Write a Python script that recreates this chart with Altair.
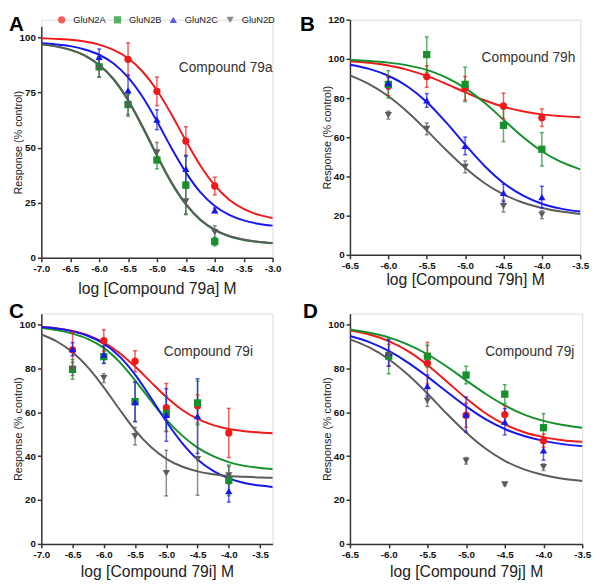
import altair as alt
import pandas as pd

FONT = "Liberation Sans"
SERIES = ["GluN2A", "GluN2B", "GluN2C", "GluN2D"]
COLORS = ["#f01818", "#15902a", "#1616f0", "#5c5c5c"]
SHAPES = ["circle", "square", "triangle-up", "triangle-down"]
YTITLE = "Response (% control)"

# ---------------- Panel A : Compound 79a ----------------
A_conc = [-6.0, -5.5, -5.0, -4.5, -4.0]
A_mean = {
    "GluN2A": [None, 90.1, 75.6, 53.0, 32.6],
    "GluN2B": [86.7, 69.6, 44.4, 33.0, 7.4],
    "GluN2C": [91.3, 76.0, 62.7, 40.4, 21.6],
    "GluN2D": [86.0, 69.3, 47.9, 25.6, 11.6],
}
A_err = {
    "GluN2A": [None, 7.5, 6.5, 6.5, 4.0],
    "GluN2B": [4.5, 4.5, 4.0, 13.0, 2.0],
    "GluN2C": [3.5, 7.0, 4.5, 6.0, 1.0],
    "GluN2D": [4.0, 5.0, 4.5, 6.0, 3.0],
}
A_cx = [-7.0, -6.75, -6.5, -6.25, -6.0, -5.75, -5.5, -5.25, -5.0, -4.75, -4.5,
        -4.25, -4.0, -3.75, -3.5, -3.25, -3.0]
A_curve = {
    "GluN2A": [99.7, 99.4, 99.0, 98.2, 96.8, 94.4, 90.6, 84.6, 76.1, 65.2, 53.2, 41.9, 32.9, 26.4, 22.2, 19.6, 18.1],
    "GluN2B": [96.9, 96.0, 94.4, 91.8, 87.5, 80.9, 71.4, 59.3, 46.2, 34.0, 24.2, 17.2, 12.6, 9.7, 8.1, 7.2, 6.6],
    "GluN2C": [97.4, 96.9, 96.1, 94.6, 92.2, 88.2, 81.9, 73.1, 62.0, 49.9, 38.8, 29.8, 23.5, 19.5, 17.0, 15.5, 14.6],
    "GluN2D": [96.9, 96.0, 94.5, 91.9, 87.7, 81.2, 71.8, 59.8, 46.7, 34.4, 24.5, 17.4, 12.8, 9.9, 8.3, 7.3, 6.7],
}

# ---------------- Panel B : Compound 79h ----------------
B_conc = [-6.0, -5.5, -5.0, -4.5, -4.0]
B_mean = {
    "GluN2A": [86.3, 91.0, 85.0, 76.0, 70.0],
    "GluN2B": [87.0, 102.2, 87.0, 66.1, 53.9],
    "GluN2C": [87.6, 78.8, 55.6, 31.6, 29.5],
    "GluN2D": [71.3, 64.3, 44.9, 24.9, 20.5],
}
B_err = {
    "GluN2A": [5.0, 5.5, 6.0, 6.5, 4.5],
    "GluN2B": [7.0, 9.0, 8.8, 8.3, 8.5],
    "GluN2C": [3.0, 3.5, 4.5, 4.5, 5.5],
    "GluN2D": [2.0, 3.0, 3.0, 3.0, 2.0],
}
B_cx = [-6.5, -6.25, -6.0, -5.75, -5.5, -5.25, -5.0, -4.75, -4.5, -4.25, -4.0, -3.75, -3.5]
B_curve = {
    "GluN2A": [98.8, 98.0, 96.6, 94.4, 91.3, 87.3, 83.0, 78.9, 75.6, 73.3, 71.7, 70.8, 70.2],
    "GluN2B": [99.4, 98.9, 98.1, 96.7, 94.4, 90.6, 85.1, 77.7, 69.0, 60.3, 52.9, 47.4, 43.6],
    "GluN2C": [97.0, 94.9, 91.4, 85.9, 78.0, 67.7, 56.3, 45.5, 36.7, 30.3, 26.1, 23.6, 22.1],
    "GluN2D": [91.6, 87.1, 80.9, 72.9, 63.5, 53.6, 44.4, 36.7, 30.9, 26.7, 23.9, 22.1, 20.9],
}

# ---------------- Panel C : Compound 79i ----------------
C_conc = [-6.5, -6.0, -5.5, -5.0, -4.5, -4.0]
C_mean = {
    "GluN2A": [88.5, 92.7, 83.3, 62.2, 63.0, 50.6],
    "GluN2B": [79.6, 85.4, 64.9, 59.5, 64.3, 29.0],
    "GluN2C": [88.8, 86.3, 64.7, 58.8, 58.3, 24.1],
    "GluN2D": [79.8, 75.6, 49.1, 32.3, 38.7, 31.3],
}
C_err = {
    "GluN2A": [8.0, 5.0, 4.8, 11.0, 5.0, 11.2],
    "GluN2B": [4.5, 3.0, 9.0, 8.0, 10.0, 7.0],
    "GluN2C": [3.0, 4.0, 9.0, 12.0, 17.0, 5.0],
    "GluN2D": [3.0, 2.0, 4.0, 10.4, 16.5, 4.0],
}
C_cx = [-7.0, -6.75, -6.5, -6.25, -6.0, -5.75, -5.5, -5.25, -5.0, -4.75, -4.5,
        -4.25, -4.0, -3.75, -3.5, -3.3]
C_curve = {
    "GluN2A": [99.0, 98.3, 97.1, 95.1, 91.8, 87.1, 80.9, 73.9, 67.0, 61.2, 57.0, 54.2, 52.4, 51.4, 50.8, 50.5],
    "GluN2B": [98.6, 97.5, 95.9, 93.4, 89.4, 83.0, 74.6, 65.4, 56.7, 49.5, 43.9, 40.0, 37.3, 35.6, 34.6, 34.1],
    "GluN2C": [98.9, 98.2, 96.9, 94.8, 91.3, 85.5, 77.2, 66.8, 55.8, 46.1, 38.5, 33.3, 29.9, 27.8, 26.6, 26.0],
    "GluN2D": [95.5, 92.3, 87.4, 80.4, 71.4, 61.4, 51.9, 44.3, 38.8, 35.3, 33.1, 31.8, 31.0, 30.6, 30.3, 30.2],
}

# ---------------- Panel D : Compound 79j ----------------
D_conc = [-6.0, -5.5, -5.0, -4.5, -4.0]
D_mean = {
    "GluN2A": [86.0, 82.4, 58.7, 59.0, 47.1],
    "GluN2B": [85.6, 85.6, 77.0, 68.3, 53.0],
    "GluN2C": [87.1, 72.0, 59.0, 55.7, 42.7],
    "GluN2D": [86.0, 65.2, 37.9, 27.1, 35.0],
}
D_err = {
    "GluN2A": [5.0, 9.5, 5.5, 4.0, 3.0],
    "GluN2B": [8.0, 5.0, 4.0, 4.3, 6.4],
    "GluN2C": [6.0, 5.0, 8.0, 6.0, 4.5],
    "GluN2D": [2.0, 2.5, 1.5, 0.5, 1.5],
}
D_cx = [-6.5, -6.25, -6.0, -5.75, -5.5, -5.25, -5.0, -4.75, -4.5, -4.25, -4.0, -3.75, -3.5]
D_curve = {
    "GluN2A": [97.4, 95.5, 92.5, 87.9, 81.6, 74.1, 66.4, 59.6, 54.5, 50.9, 48.7, 47.3, 46.6],
    "GluN2B": [97.8, 96.3, 94.2, 90.9, 86.5, 80.9, 74.6, 68.5, 63.2, 59.0, 56.1, 54.2, 53.0],
    "GluN2C": [94.8, 92.0, 88.0, 82.7, 76.3, 69.4, 62.7, 56.9, 52.4, 49.2, 47.0, 45.5, 44.6],
    "GluN2D": [93.3, 89.6, 84.2, 77.1, 68.6, 59.4, 50.8, 43.5, 37.9, 34.0, 31.4, 29.7, 28.7],
}

XLABEL = "(datum.value < 0 ? '-' : '') + format(abs(datum.value), '.1f')"


def panel(letter, comp, conc, means, errs, cx, curves, xdom, xticks, ydom, yticks,
          width, height, yrange, ann_x, ann_y, letter_x, letter_y, xtitle_y, show_legend):
    pts = pd.DataFrame([
        {"x": x, "series": s, "mean": m, "lo": m - e, "hi": m + e}
        for s in SERIES for x, m, e in zip(conc, means[s], errs[s]) if m is not None
    ])
    crv = pd.DataFrame([
        {"x": x, "series": s, "y": v} for s in SERIES for x, v in zip(cx, curves[s])
    ])
    cs = alt.Scale(domain=SERIES, range=COLORS)
    ss = alt.Scale(domain=SERIES, range=SHAPES)
    xs = alt.Scale(domain=xdom, nice=False, zero=False)
    if yrange is not None:
        ys = alt.Scale(domain=ydom, nice=False, zero=False, range=yrange)
    else:
        ys = alt.Scale(domain=ydom, nice=False, zero=False)

    xaxis = alt.Axis(values=xticks, tickCount=40, labelExpr=XLABEL,
                     title=f"log [Compound {comp}] M",
                     titleFont=FONT, titleFontSize=16, titleFontWeight="normal",
                     titleColor="#222", titleY=xtitle_y, titleBaseline="alphabetic",
                     labelFont=FONT, labelFontSize=10, labelFontWeight="bold",
                     labelColor="#111", labelPadding=2, tickSize=4, tickWidth=1.5,
                     tickColor="#333", domainColor="#333", domainWidth=1.5, grid=False,
                     labelFlush=False, labelOverlap=False)
    yaxis = alt.Axis(values=yticks, tickCount=40, format="d", title=YTITLE,
                     titleFont=FONT, titleFontSize=11, titleFontWeight="normal",
                     titleColor="#222", titleX=-18,
                     labelFont=FONT, labelFontSize=10, labelFontWeight="bold",
                     labelColor="#111", labelPadding=2, tickSize=4, tickWidth=1.5,
                     tickColor="#333", domainColor="#333", domainWidth=1.5, grid=False,
                     labelFlush=False, labelOverlap=False)

    if show_legend:
        leg = alt.Legend(orient="none", legendX=16, legendY=-5, direction="horizontal",
                         title=None, labelFont=FONT, labelFontSize=9.5, labelColor="#222",
                         symbolSize=55, symbolStrokeWidth=0, labelOffset=7,
                         columnPadding=7, padding=0)
    else:
        leg = None

    def col():
        return alt.Color("series:N", scale=cs, legend=leg)

    lines = alt.Chart(crv).mark_line(interpolate="monotone", strokeWidth=2).encode(
        x=alt.X("x:Q", scale=xs, axis=xaxis),
        y=alt.Y("y:Q", scale=ys, axis=yaxis),
        color=col(),
    )
    bars = alt.Chart(pts).mark_rule(strokeWidth=1.5, opacity=0.7).encode(
        x=alt.X("x:Q", scale=xs),
        y=alt.Y("lo:Q", scale=ys),
        y2="hi:Q",
        color=col(),
    )
    cap_lo = alt.Chart(pts).mark_tick(orient="horizontal", size=4, thickness=1.5, opacity=0.7).encode(
        x=alt.X("x:Q", scale=xs),
        y=alt.Y("lo:Q", scale=ys),
        color=col(),
    )
    cap_hi = alt.Chart(pts).mark_tick(orient="horizontal", size=4, thickness=1.5, opacity=0.7).encode(
        x=alt.X("x:Q", scale=xs),
        y=alt.Y("hi:Q", scale=ys),
        color=col(),
    )
    points = alt.Chart(pts).mark_point(filled=True, size=55, opacity=1).encode(
        x=alt.X("x:Q", scale=xs),
        y=alt.Y("mean:Q", scale=ys),
        color=col(),
        shape=alt.Shape("series:N", scale=ss, legend=leg),
    )
    ann = alt.Chart(pd.DataFrame({"t": [f"Compound {comp}"]})).mark_text(
        font=FONT, fontSize=14, color="#333", align="right", baseline="middle"
    ).encode(text="t:N", x=alt.value(ann_x), y=alt.value(ann_y))
    let = alt.Chart(pd.DataFrame({"t": [letter]})).mark_text(
        font=FONT, fontSize=21, fontWeight="bold", color="#000", align="left", baseline="top"
    ).encode(text="t:N", x=alt.value(letter_x), y=alt.value(letter_y))

    return alt.layer(lines, bars, cap_lo, cap_hi, points, ann, let).properties(
        width=width, height=height
    )


pA = panel("A", "79a", A_conc, A_mean, A_err, A_cx, A_curve, [-7.0, -3.0],
           [-7.0, -6.5, -6.0, -5.5, -5.0, -4.5, -4.0, -3.5, -3.0], [0, 105],
           [0, 25, 50, 75, 100], 236, 243, [243, 7], 236, 49, -33, -5, 36, True)
pB = panel("B", "79h", B_conc, B_mean, B_err, B_cx, B_curve, [-6.5, -3.5],
           [-6.5, -6.0, -5.5, -5.0, -4.5, -4.0, -3.5], [0, 120],
           [0, 20, 40, 60, 80, 100, 120], 235, 240, None, 230, 39, -51, -5, 30, False)
pC = panel("C", "79i", C_conc, C_mean, C_err, C_cx, C_curve, [-7.0, -3.3],
           [-7.0, -6.5, -6.0, -5.5, -5.0, -4.5, -4.0, -3.5], [0, 105],
           [0, 20, 40, 60, 80, 100], 236, 235, None, 216, 39.5, -33, -12.7, 33, False)
pD = panel("D", "79j", D_conc, D_mean, D_err, D_cx, D_curve, [-6.5, -3.5],
           [-6.5, -6.0, -5.5, -5.0, -4.5, -4.0, -3.5], [0, 105],
           [0, 20, 40, 60, 80, 100], 237, 235, None, 229, 39.5, -48, -12.7, 33, False)

chart = alt.concat(pA, pB, pC, pD, columns=2, align="each",
                   spacing={"row": 3, "column": 17}).resolve_scale(
    x="independent", y="independent", color="independent", shape="independent"
).properties(
    padding={"left": 0, "top": 0, "right": 0, "bottom": 0}
).configure_view(strokeWidth=0).configure(font=FONT)

chart.save("out.html", embed_options={"renderer": "svg", "actions": False})
